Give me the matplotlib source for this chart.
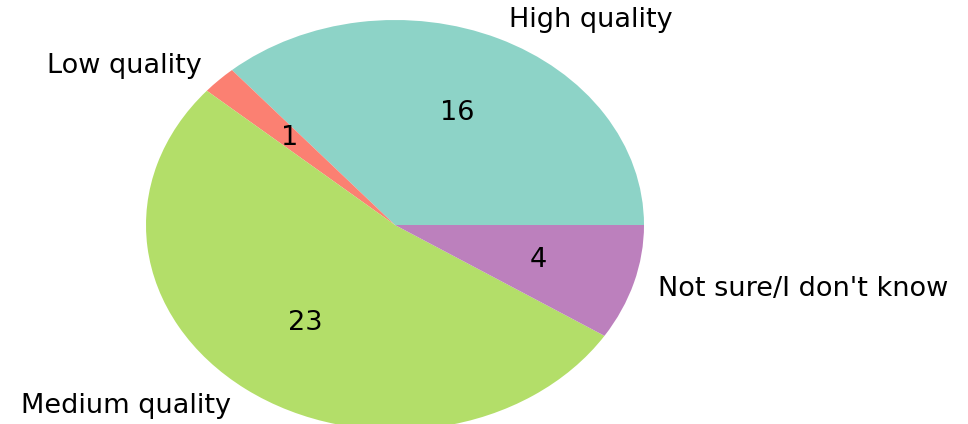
import matplotlib
matplotlib.use('Agg')
import matplotlib.pyplot as plt

# ответы на вопрос о качестве
labels = ['High quality', 'Low quality', 'Medium quality', "Not sure/I don't know"]
counts = [16, 1, 23, 4]
colors = ['#8dd3c7', '#fb8072', '#b3de69', '#bc80bd']

fig = plt.figure(figsize=(9.68, 4.24), dpi=100)
ax = fig.add_axes([0, 0, 1, 1])

ax.pie(counts, labels=labels, colors=colors,
       autopct=lambda p: '{:.0f}'.format(p * sum(counts) / 100),
       textprops={'fontsize': 19.5})

# растянутый эллипс, как на исходной картинке
ax.set_aspect('auto')
ax.set_xlim(-395 / 249, (968 - 395) / 249)
ax.set_ylim(-(424 - 225) / 205, 225 / 205)
ax.axis('off')

fig.savefig('out.png', dpi=100)
